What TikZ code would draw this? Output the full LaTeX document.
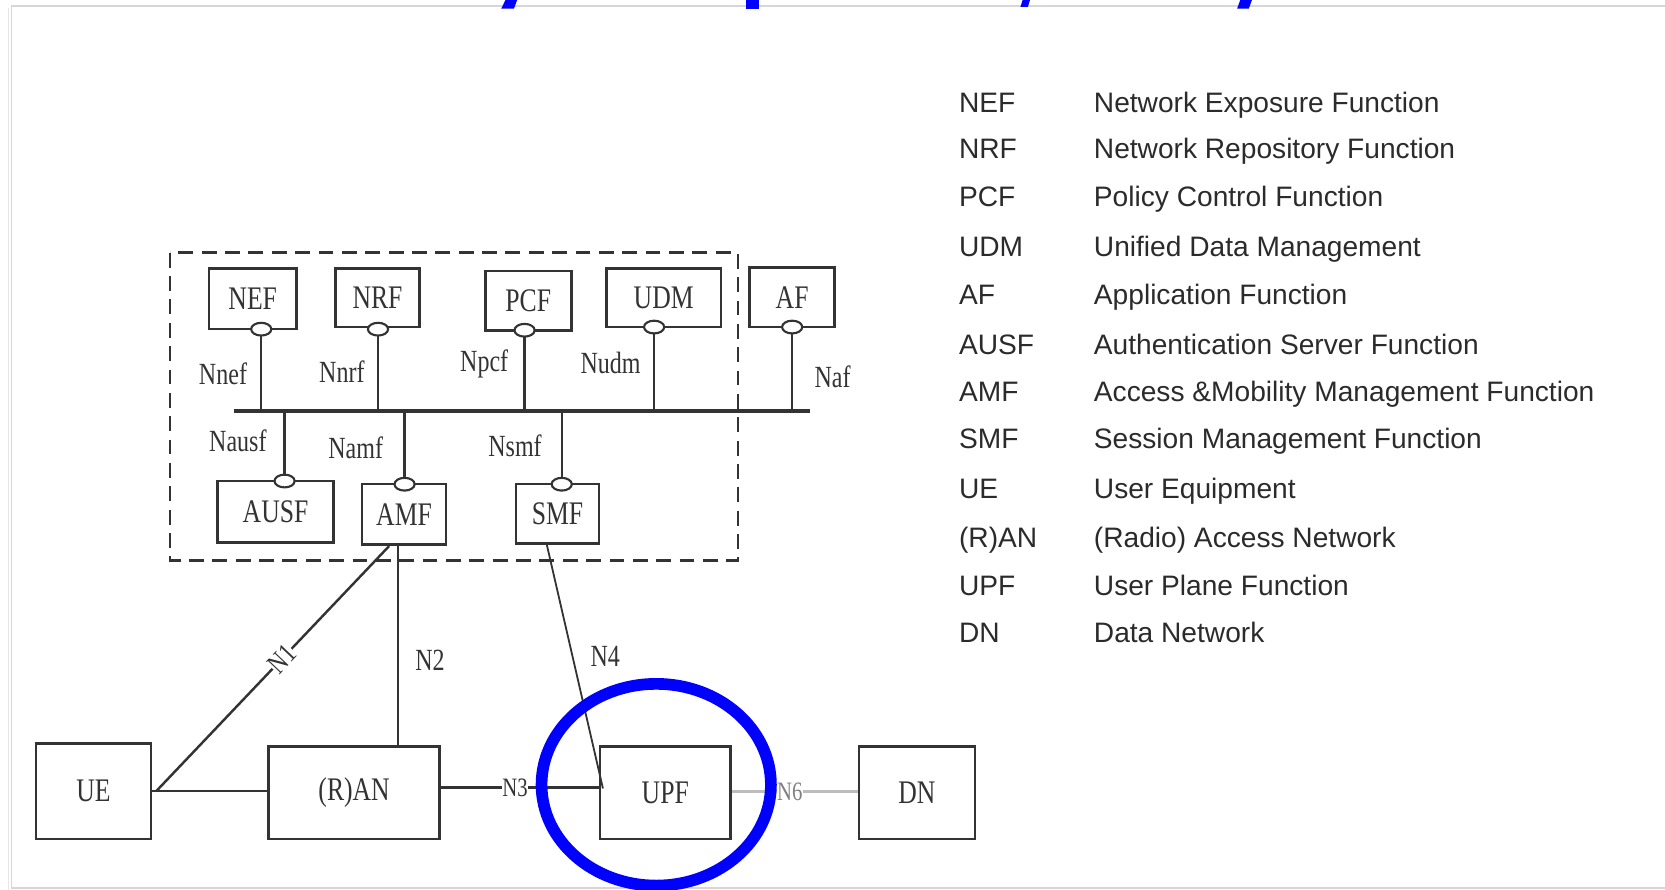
\documentclass[tikz,border=0pt]{standalone}
\usepackage{fontspec}
\setmainfont{Liberation Serif}
\newfontfamily\legfont{Liberation Sans}
\usetikzlibrary{shapes.geometric,calc}
\definecolor{ink}{HTML}{333333}
\definecolor{legink}{HTML}{2B2B2B}
\definecolor{framec}{HTML}{D6D6D6}
\definecolor{nsix}{HTML}{BDBDBD}
\newcommand{\cnd}[1]{\scalebox{0.78}[1]{#1}}
\begin{document}
\begin{tikzpicture}[x=1pt,y=-1pt,
  box/.style={draw=ink, line width=2.4pt, fill=white, inner sep=0pt, text=ink, font=\fontsize{31}{34}\selectfont},
  lbl/.style={text=ink, font=\fontsize{29}{32}\selectfont, inner sep=1pt},
  port/.style={ellipse, draw=ink, fill=white, line width=2pt, minimum width=19pt, minimum height=12pt, inner sep=0pt},
  wire/.style={draw=ink, line width=2.3pt},
  thinwire/.style={draw=ink, line width=1.7pt},
  leg/.style={anchor=base west, text=legink, font=\legfont\fontsize{26.5}{30}\selectfont, inner sep=0pt}]
\useasboundingbox (0,0) rectangle (1568,838);
% frame
\draw[framec!60, line width=1.2pt] (8,8) -- (8,838);
\draw[framec, line width=1.5pt] (1568,5.5) -- (11,5.5) -- (11,836) -- (1568,836);
% blue fragments at the top
\fill[blue] (476,0) -- (487,0) -- (484,8.2) -- (472,8.2) -- cycle;
\fill[blue] (703,0) -- (715,0) -- (715,8.2) -- (703,8.2) -- cycle;
\fill[blue] (963,0) -- (970,0) -- (968,6.5) -- (961,6.5) -- cycle;
\fill[blue] (1168,0) -- (1179,0) -- (1176,8.2) -- (1165,8.2) -- cycle;
% dashed domain
\draw[ink, line width=2.4pt, dash pattern=on 14pt off 8pt] (160,238) rectangle (695,528);
% bus
\coordinate (busL) at (220,387);
\coordinate (busR) at (763,387);
\draw[wire, line width=3pt] (busL) -- (busR);
% port positions
\coordinate (cnef) at (246,310);
\coordinate (cnrf) at (356,310);
\coordinate (cpcf) at (494,311);
\coordinate (cudm) at (616,308);
\coordinate (caf) at (746,308);
\coordinate (causf) at (268,453);
\coordinate (camf) at (381,456);
\coordinate (csmf) at (529,456);
\foreach \c in {cnef,cnrf,cpcf,cudm,caf,causf,camf,csmf}
  \draw[wire] (\c) -- (\c |- busL);
% boxes
\node[box, minimum width=82pt, minimum height=57pt] (nef) at (238,281.5) {\cnd{NEF}};
\node[box, minimum width=79pt, minimum height=55pt] (nrf) at (355.5,280.5) {\cnd{NRF}};
\node[box, minimum width=81pt, minimum height=56pt] (pcf) at (497.5,283) {\cnd{PCF}};
\node[box, minimum width=108pt, minimum height=55pt] (udm) at (625,280.5) {\cnd{UDM}};
\node[box, minimum width=80pt, minimum height=56pt] (af) at (746,280) {\cnd{AF}};
\node[box, minimum width=109pt, minimum height=58pt] (ausf) at (259.5,482) {\cnd{AUSF}};
\node[box, minimum width=79pt, minimum height=57pt] (amf) at (380.5,484.5) {\cnd{AMF}};
\node[box, minimum width=78pt, minimum height=56pt] (smf) at (525,484) {\cnd{SMF}};
\node[box, minimum width=108pt, minimum height=90pt] (ue) at (88,745) {\cnd{UE}};
\node[box, minimum width=161pt, minimum height=87pt] (ran) at (333.5,746.5) {\cnd{(R)AN}};
\node[box, minimum width=123pt, minimum height=87pt] (upf) at (626.5,746.5) {\cnd{UPF}};
\node[box, minimum width=109pt, minimum height=87pt] (dn) at (863.5,746.5) {\cnd{DN}};
% ports
\foreach \c/\n in {cnef/pnef,cnrf/pnrf,cpcf/ppcf,cudm/pudm,caf/paf,causf/pausf,camf/pamf,csmf/psmf}
  \node[port] (\n) at (\c) {};
% interface labels
\node[lbl] (lnef) at (210,352) {\cnd{Nnef}};
\node[lbl] (lnrf) at (322,350) {\cnd{Nnrf}};
\node[lbl] (lpcf) at (456,343) {\cnd{Npcf}};
\node[lbl] (ludm) at (575,342) {\cnd{Nudm}};
\node[lbl] (laf) at (784,355) {\cnd{Naf}};
\node[lbl] (lausf) at (224,415) {\cnd{Nausf}};
\node[lbl] (lamf) at (335,422) {\cnd{Namf}};
\node[lbl] (lsmf) at (485,420) {\cnd{Nsmf}};
% reference points
\draw[wire] (ue.east) -- (ue.east -| ran.west);
\coordinate (n1e) at ($(amf.south)+(-14,0)$);
\draw[wire] ($(ue.east)+(4,0)$) -- node[lbl, sloped, fill=white, inner sep=0pt, pos=0.54, font=\fontsize{27}{29}\selectfont] (ln1) {\cnd{N1}} (n1e);
\coordinate (n2t) at ($(amf.south)+(-6,0)$);
\draw[thinwire] (n2t) -- (n2t |- ran.north);
\node[lbl] (ln2) at (405,622) {\cnd{N2}};
\coordinate (n4t) at ($(smf.south)+(-10,0)$);
\draw[thinwire] (n4t) -- ($(upf.west)+(4,-4)$);
\node[lbl] (ln4) at (570,618) {\cnd{N4}};
\draw[wire, line width=3pt] ($(ran.east)+(0,-5)$) -- node[lbl, fill=white, inner sep=0.5pt, pos=0.47, font=\fontsize{25}{27}\selectfont] (ln3) {\cnd{N3}} ($(upf.west)+(0,-5)$);
\draw[nsix, line width=2.6pt] ($(upf.east)+(0,-1)$) -- node[lbl, text=gray, fill=white, inner sep=0.5pt, pos=0.46, font=\fontsize{25}{27}\selectfont] (ln6) {\cnd{N6}} ($(dn.west)+(0,-1)$);
% highlight
\draw[blue, line width=11pt] (618,739) ellipse [x radius=108, y radius=95];
% legend
\foreach \ab/\de/\yy [count=\i] in {
  NEF/Network Exposure Function/97,
  NRF/Network Repository Function/141,
  PCF/Policy Control Function/186,
  UDM/Unified Data Management/233,
  AF/Application Function/278,
  AUSF/Authentication Server Function/325,
  AMF/Access \&Mobility Management Function/370,
  SMF/Session Management Function/414,
  UE/User Equipment/461,
  (R)AN/(Radio) Access Network/507,
  UPF/User Plane Function/552,
  DN/Data Network/597}{
  \node[leg] (la\i) at (903,\yy+8.5) {\ab};
  \node[leg] (lb\i) at (1030,\yy+8.5) {\de};
}
\end{tikzpicture}
\end{document}
